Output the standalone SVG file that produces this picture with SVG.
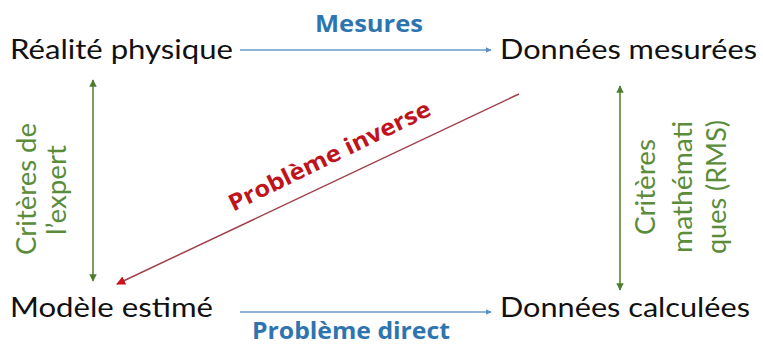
<svg xmlns="http://www.w3.org/2000/svg" width="763" height="345" viewBox="0 0 763 345">
<style>
.node{font-family:Lato,"Open Sans","Liberation Sans",sans-serif;font-size:27px;fill:#111}
.blue{font-family:"Open Sans",Lato,"Liberation Sans",sans-serif;font-weight:bold;font-size:24px;fill:#2e75b0}
.green{font-family:Lato,"Open Sans","Liberation Sans",sans-serif;font-size:26px;fill:#5b8c3a}
.red{font-family:"Open Sans",Lato,"Liberation Sans",sans-serif;font-weight:bold;font-size:23px;fill:#c0141c}
</style>
<defs>
<marker id="ab" viewBox="0 0 10 10" refX="9" refY="5" markerWidth="4" markerHeight="4" orient="auto"><path d="M0,0L10,5L0,10z" fill="#5b8fc4"/></marker>
<marker id="ag" viewBox="0 0 10 10" refX="9" refY="5" markerWidth="5" markerHeight="5" orient="auto-start-reverse"><path d="M0,0L10,5L0,10z" fill="#4f7d30"/></marker>
<marker id="ar" viewBox="0 0 10 10" refX="9" refY="5" markerWidth="6" markerHeight="6" orient="auto"><path d="M0,0L10,5L0,10z" fill="#d0101a"/></marker>
</defs>
<rect width="763" height="345" fill="#fff"/>
<g id="connectors">
<line x1="240" y1="50" x2="491" y2="50" stroke="#6a9acb" stroke-width="1.5" marker-end="url(#ab)"/>
<line x1="240" y1="312" x2="491" y2="312" stroke="#6a9acb" stroke-width="1.5" marker-end="url(#ab)"/>
<line x1="93" y1="80" x2="93" y2="281" stroke="#4f7d30" stroke-width="1.5" marker-start="url(#ag)" marker-end="url(#ag)"/>
<line x1="620" y1="86" x2="620" y2="290" stroke="#4f7d30" stroke-width="1.5" marker-start="url(#ag)" marker-end="url(#ag)"/>
<line x1="519" y1="94" x2="117" y2="284" stroke="#a0404a" stroke-width="1.5" marker-end="url(#ar)"/>
<text class="blue" x="369" y="32" text-anchor="middle" textLength="108" lengthAdjust="spacingAndGlyphs">Mesures</text>
<text class="blue" x="351" y="339" text-anchor="middle" font-size="23" textLength="198" lengthAdjust="spacingAndGlyphs">Problème direct</text>
<text class="red" transform="translate(333,163) rotate(-26)" text-anchor="middle" textLength="222" lengthAdjust="spacingAndGlyphs">Problème inverse</text>
<text class="green" transform="translate(36,189) rotate(-90)" text-anchor="middle" textLength="132" lengthAdjust="spacingAndGlyphs">Critères de</text>
<text class="green" transform="translate(66,190) rotate(-90)" text-anchor="middle" textLength="90" lengthAdjust="spacingAndGlyphs">l’expert</text>
<text class="green" transform="translate(655,187) rotate(-90)" text-anchor="middle" textLength="96" lengthAdjust="spacingAndGlyphs">Critères</text>
<text class="green" transform="translate(692,187) rotate(-90)" text-anchor="middle" textLength="132" lengthAdjust="spacingAndGlyphs">mathémati</text>
<text class="green" transform="translate(726,187) rotate(-90)" text-anchor="middle" textLength="134" lengthAdjust="spacingAndGlyphs">ques (RMS)</text>
</g>
<g id="n1"><text class="node" x="10" y="59" textLength="223" lengthAdjust="spacingAndGlyphs">Réalité physique</text></g>
<g id="n2"><text class="node" x="500" y="59" textLength="257" lengthAdjust="spacingAndGlyphs">Données mesurées</text></g>
<g id="n3"><text class="node" x="10" y="317" textLength="203" lengthAdjust="spacingAndGlyphs">Modèle estimé</text></g>
<g id="n4"><text class="node" x="500" y="317" textLength="250" lengthAdjust="spacingAndGlyphs">Données calculées</text></g>
</svg>
